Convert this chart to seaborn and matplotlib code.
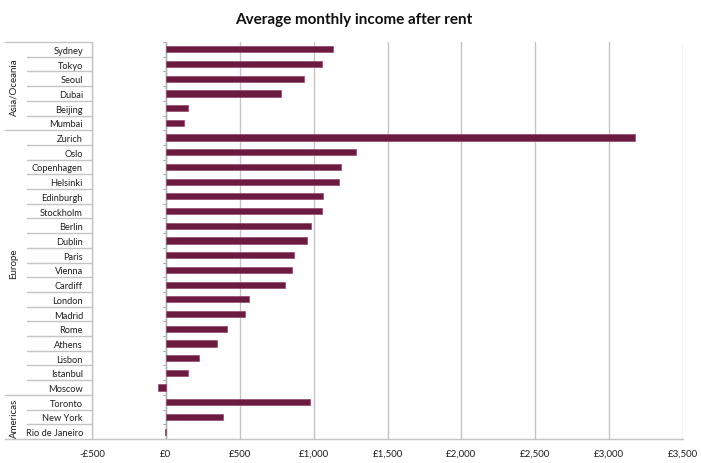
import numpy as np
import pandas as pd
import matplotlib
matplotlib.use("Agg")
import matplotlib.pyplot as plt
import matplotlib.transforms as mtransforms
from matplotlib.ticker import FuncFormatter
import seaborn as sns

# ---- data ----
regions = ["Asia/Oceania"] * 6 + ["Europe"] * 18 + ["Americas"] * 3
cities = ["Sydney", "Tokyo", "Seoul", "Dubai", "Beijing", "Mumbai",
          "Zurich", "Oslo", "Copenhagen", "Helsinki", "Edinburgh", "Stockholm",
          "Berlin", "Dublin", "Paris", "Vienna", "Cardiff", "London",
          "Madrid", "Rome", "Athens", "Lisbon", "Istanbul", "Moscow",
          "Toronto", "New York", "Rio de Janeiro"]
income = [1130, 1056, 938, 778, 152, 120,
          3178, 1289, 1183, 1173, 1066, 1056,
          979, 957, 866, 856, 805, 561,
          538, 412, 344, 226, 149, -50,
          975, 389, -5]
group_names = ["Asia/Oceania", "Europe", "Americas"]
x_ticks = [-500, 0, 500, 1000, 1500, 2000, 2500, 3000, 3500]

df = pd.DataFrame({"region": regions, "city": cities, "income": income})

sns.set_theme(style="white")
plt.rcParams['font.family'] = ['Lato', 'DejaVu Sans']

W, H = 702, 464
fig = plt.figure(figsize=(W / 100, H / 100), dpi=100)
L, R, T, B = 92, 683, 43, 440
ax = fig.add_axes([L / W, 1 - B / H, (R - L) / W, (B - T) / H])

bar_color = "#6B1B40"
sns.barplot(data=df, x="income", y="city", orient="h", color=bar_color,
            saturation=1, width=0.42, edgecolor="#94486C", linewidth=0.5,
            ax=ax, zorder=3)

n = len(cities)
ax.set_xlim(x_ticks[0], x_ticks[-1])
ax.set_ylim(n - 0.5, -0.5)
ax.set_xlabel("")
ax.set_ylabel("")

grid_c = "#C4C4C4"
ax.set_xticks(x_ticks)

def money(v, pos=None):
    v = int(round(v))
    return ("-£{:,}".format(-v)) if v < 0 else "£{:,}".format(v)

ax.xaxis.set_major_formatter(FuncFormatter(money))
ax.grid(axis="x", color=grid_c, linewidth=1.0, zorder=0)
ax.grid(axis="y", visible=False)
ax.set_axisbelow(True)

for s in ["top", "right", "left"]:
    ax.spines[s].set_visible(False)
ax.spines["bottom"].set_color(grid_c)
ax.spines["bottom"].set_linewidth(1.0)

lab_c = "#1E1E1E"
ax.tick_params(axis="x", length=2.2, width=1.0, color=grid_c, direction="out",
               labelsize=7, labelcolor=lab_c, pad=5)
ax.tick_params(axis="y", length=0, labelsize=6.7, labelcolor=lab_c, pad=6.5)

# vertical axis at zero with small tick marks at category boundaries
ax.axvline(0, color="#B0B0B0", linewidth=1.0, zorder=2)
for b in np.arange(-0.5, n, 1.0):
    ax.plot([-20, 0], [b, b], color="#B0B0B0", linewidth=0.8, zorder=2,
            clip_on=False)

# category label table
blend = mtransforms.blended_transform_factory(ax.transAxes, ax.transData)
x_outer = (5 - L) / (R - L)
x_inner = (27 - L) / (R - L)
line_kw = dict(color=grid_c, linewidth=1.0, transform=blend, clip_on=False)

ax.plot([0, 0], [-0.5, n - 0.5], **line_kw)
group_bounds = []
start = 0
for g in group_names:
    cnt = regions.count(g)
    group_bounds.append((g, start, start + cnt))
    start += cnt

for g, s, e in group_bounds:
    ax.plot([x_outer, 0], [s - 0.5, s - 0.5], **line_kw)
    for k in range(s + 1, e):
        ax.plot([x_inner, 0], [k - 0.5, k - 0.5], **line_kw)
    ax.text((14 - L) / (R - L), (s + e - 1) / 2, g, rotation=90,
            ha="center", va="center", fontsize=7, color=lab_c,
            transform=blend)
ax.plot([x_outer, 0], [n - 0.5, n - 0.5], **line_kw)

fig.text(354 / W, 1 - 20 / H, "Average monthly income after rent",
         ha="center", va="center", fontsize=11, fontweight="bold",
         color="#111111")

fig.savefig("out.png", dpi=100)
